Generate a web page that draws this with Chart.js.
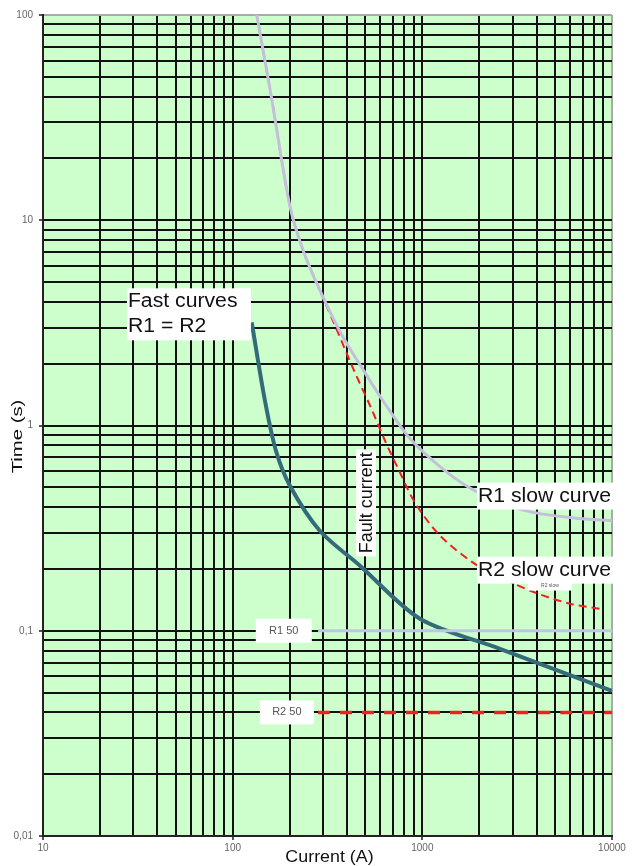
<!DOCTYPE html>
<html>
<head>
<meta charset="utf-8">
<script src="https://cdn.jsdelivr.net/npm/chart.js@4.4.1/dist/chart.umd.min.js"></script>
<style>
  body { margin: 0; background: #fff; }
  canvas { display: block; }
</style>
</head>
<body>
<canvas id="relay-chart" width="635" height="866"></canvas>
<script>
// tick labels (decades)
const currentTicks = [10, 100, 1000, 10000];
const currentTickLabels = ["10", "100", "1000", "10000"];
const timeTicks = [0.01, 0.1, 1, 10, 100];
const timeTickLabels = ["0,01", "0,1", "1", "10", "100"];

// fast curve (R1 = R2)
const fastCurrent = [126, 148, 169, 200, 288, 469, 971, 2566, 10000];
const fastTime = [3.18, 1.32, 0.755, 0.51, 0.307, 0.2075, 0.1145, 0.0817, 0.051];

// R1 slow curve
const r1SlowCurrent = [134, 161, 200, 235, 288.5, 377, 498, 620, 860, 1315, 1893, 3475, 6776, 10000];
const r1SlowTime = [100, 38.5, 11.8, 7.14, 4.55, 2.75, 1.81, 1.32, 0.864, 0.603, 0.482, 0.385, 0.352, 0.344];

// R2 slow curve
const r2SlowCurrent = [134, 161, 200, 235, 288.5, 355, 436, 530, 635, 762, 914, 1238, 1963, 3690, 6000, 8635];
const r2SlowTime = [100, 38.5, 11.8, 7.14, 4.55, 2.91, 1.855, 1.25, 0.845, 0.59, 0.421, 0.291, 0.2075, 0.157, 0.1355, 0.128];

// definite time stages
const r1StageCurrent = [282, 10000];
const r1StageTime = [0.1, 0.1];
const r2StageCurrent = [282, 10000];
const r2StageTime = [0.04, 0.04];

function toPoints(xs, ys) {
  return xs.map((x, i) => ({ x: x, y: ys[i] }));
}

// minor grid positions 1..9 per decade
function decadeSteps(majors) {
  const out = [];
  for (let d = 0; d < majors.length - 1; d++) {
    for (let k = 1; k < 10; k++) out.push(majors[d] * k);
  }
  out.push(majors[majors.length - 1]);
  return out;
}

const FONT = "'Liberation Sans', Arial, sans-serif";

// text notes placed in data coordinates
const notes = [
  { lines: ["Fast curves", "R1 = R2"], x: 27.7, y: 4.66, w: 124, h: 52 },
  { lines: ["R1 slow curve"], x: 1941, y: 0.527, w: 136, h: 27 },
  { lines: ["R2 slow curve"], x: 1941, y: 0.2296, w: 136, h: 27 },
];
const smallBoxes = [
  { text: "R1 50", x: 186, y: 0.1, w: 56, h: 24, size: 11 },
  { text: "R2 50", x: 193, y: 0.04, w: 54, h: 24, size: 11 },
  { text: "R2 slow", x: 4710, y: 0.166, w: 44, h: 10, size: 5 },
];
const faultNote = { text: "Fault current", x: 505, y: 0.42 };

const greenArea = {
  id: "greenArea",
  beforeDraw(chart) {
    const { ctx, chartArea: a } = chart;
    ctx.save();
    ctx.fillStyle = "#ffffff";
    ctx.fillRect(0, 0, chart.width, chart.height);
    ctx.fillStyle = "#ccffcc";
    ctx.fillRect(a.left, a.top, a.right - a.left, a.bottom - a.top);
    ctx.restore();
  },
};

// axis titles, drawn by hand to match the stretched lettering
const axisTitles = {
  id: "axisTitles",
  afterDraw(chart) {
    const ctx = chart.ctx;
    const a = chart.chartArea;
    ctx.save();
    ctx.fillStyle = "#111";
    ctx.textAlign = "center";
    ctx.textBaseline = "middle";
    ctx.font = "17px " + FONT;
    ctx.save();
    ctx.translate((a.left + a.right) / 2 + 2, a.bottom + 21);
    ctx.scale(1.05, 1);
    ctx.fillText("Current (A)", 0, 0);
    ctx.restore();
    ctx.save();
    ctx.translate(18, (a.top + a.bottom) / 2 + 11);
    ctx.rotate(-Math.PI / 2);
    ctx.scale(1.45, 1);
    ctx.font = "14px " + FONT;
    ctx.fillText("Time (s)", 0, 0);
    ctx.restore();
    ctx.restore();
  },
};

const labelBoxes = {
  id: "labelBoxes",
  afterDatasetsDraw(chart) {
    const ctx = chart.ctx;
    const xs = chart.scales.x;
    const ys = chart.scales.y;
    ctx.save();
    notes.forEach((n) => {
      const px = xs.getPixelForValue(n.x);
      const py = ys.getPixelForValue(n.y);
      ctx.fillStyle = "#ffffff";
      ctx.fillRect(px, py, n.w, n.h);
      ctx.fillStyle = "#111";
      ctx.font = "20px " + FONT;
      ctx.textBaseline = "alphabetic";
      ctx.textAlign = "left";
      n.lines.forEach((l, i) => {
        ctx.save();
        ctx.translate(px + 1, py + 19 + i * 25);
        ctx.scale(1.06, 1);
        ctx.fillText(l, 0, 0);
        ctx.restore();
      });
    });
    smallBoxes.forEach((b) => {
      const px = xs.getPixelForValue(b.x);
      const py = ys.getPixelForValue(b.y);
      ctx.fillStyle = "#ffffff";
      ctx.fillRect(px - b.w / 2, py - b.h / 2, b.w, b.h);
      ctx.fillStyle = "#555";
      ctx.font = b.size + "px " + FONT;
      ctx.textAlign = "center";
      ctx.textBaseline = "middle";
      ctx.fillText(b.text, px, py);
    });
    const fx = xs.getPixelForValue(faultNote.x);
    const fy = ys.getPixelForValue(faultNote.y);
    ctx.translate(fx, fy);
    ctx.rotate(-Math.PI / 2);
    ctx.font = "18px " + FONT;
    const tw = ctx.measureText(faultNote.text).width;
    ctx.fillStyle = "#ffffff";
    ctx.fillRect(-tw / 2 - 3, -10, tw + 6, 20);
    ctx.fillStyle = "#111";
    ctx.textAlign = "center";
    ctx.textBaseline = "middle";
    ctx.fillText(faultNote.text, 0, 1);
    ctx.restore();
  },
};

const curveStyle = { pointRadius: 0, fill: false, tension: 0.3 };

new Chart(document.getElementById("relay-chart"), {
  type: "line",
  data: {
    datasets: [
      { label: "R1 50", data: toPoints(r1StageCurrent, r1StageTime), borderColor: "#bcc8e2", borderWidth: 3, ...curveStyle },
      { label: "R2 50", data: toPoints(r2StageCurrent, r2StageTime), borderColor: "#ee2020", borderWidth: 3.5, borderDash: [12, 10], ...curveStyle },
      { label: "R1 slow", data: toPoints(r1SlowCurrent, r1SlowTime), borderColor: "#c4c0dc", borderWidth: 3, ...curveStyle },
      { label: "R2 slow", data: toPoints(r2SlowCurrent, r2SlowTime), borderColor: "#ee2020", borderWidth: 2, borderDash: [8, 5], ...curveStyle },
      { label: "Fast", data: toPoints(fastCurrent, fastTime), borderColor: "#336b78", borderWidth: 4, ...curveStyle },
    ],
  },
  options: {
    responsive: false,
    animation: false,
    layout: { padding: { top: 15, right: 23, left: 0, bottom: 0 } },
    plugins: { legend: { display: false }, tooltip: { enabled: false } },
    scales: {
      x: {
        type: "logarithmic",
        min: 10,
        max: 10000,
        afterBuildTicks: (scale) => {
          scale.ticks = decadeSteps(currentTicks).map((v) => ({ value: v }));
        },
        afterFit: (scale) => {
          scale.height = 30;
        },
        grid: {
          color: (c) => (c.tick && c.tick.value === 10000 ? "#aaaaaa" : "#111111"),
          lineWidth: 2,
          tickLength: 4,
          tickColor: (c) => (c.tick && currentTicks.includes(c.tick.value) ? "#555" : "rgba(0,0,0,0)"),
        },
        border: { color: "#222", width: 2 },
        ticks: {
          autoSkip: false,
          maxRotation: 0,
          padding: 2,
          color: "#666",
          font: { size: 10, family: FONT },
          callback: (v) => {
            const i = currentTicks.indexOf(v);
            return i >= 0 ? currentTickLabels[i] : "";
          },
        },
        title: { display: false },
      },
      y: {
        type: "logarithmic",
        min: 0.01,
        max: 100,
        afterBuildTicks: (scale) => {
          scale.ticks = decadeSteps(timeTicks).map((v) => ({ value: v }));
        },
        afterFit: (scale) => {
          scale.width = 43;
        },
        grid: {
          color: (c) => (c.tick && c.tick.value === 100 ? "#aaaaaa" : "#111111"),
          lineWidth: 2,
          tickLength: 4,
          tickColor: (c) => (c.tick && timeTicks.includes(c.tick.value) ? "#555" : "rgba(0,0,0,0)"),
        },
        border: { color: "#222", width: 2 },
        ticks: {
          autoSkip: false,
          padding: 6,
          color: "#666",
          font: { size: 10, family: FONT },
          callback: (v) => {
            const i = timeTicks.findIndex((t) => Math.abs(t - v) < t * 1e-6);
            return i >= 0 ? timeTickLabels[i] : "";
          },
        },
        title: { display: false },
      },
    },
  },
  plugins: [greenArea, labelBoxes, axisTitles],
});
</script>
</body>
</html>
